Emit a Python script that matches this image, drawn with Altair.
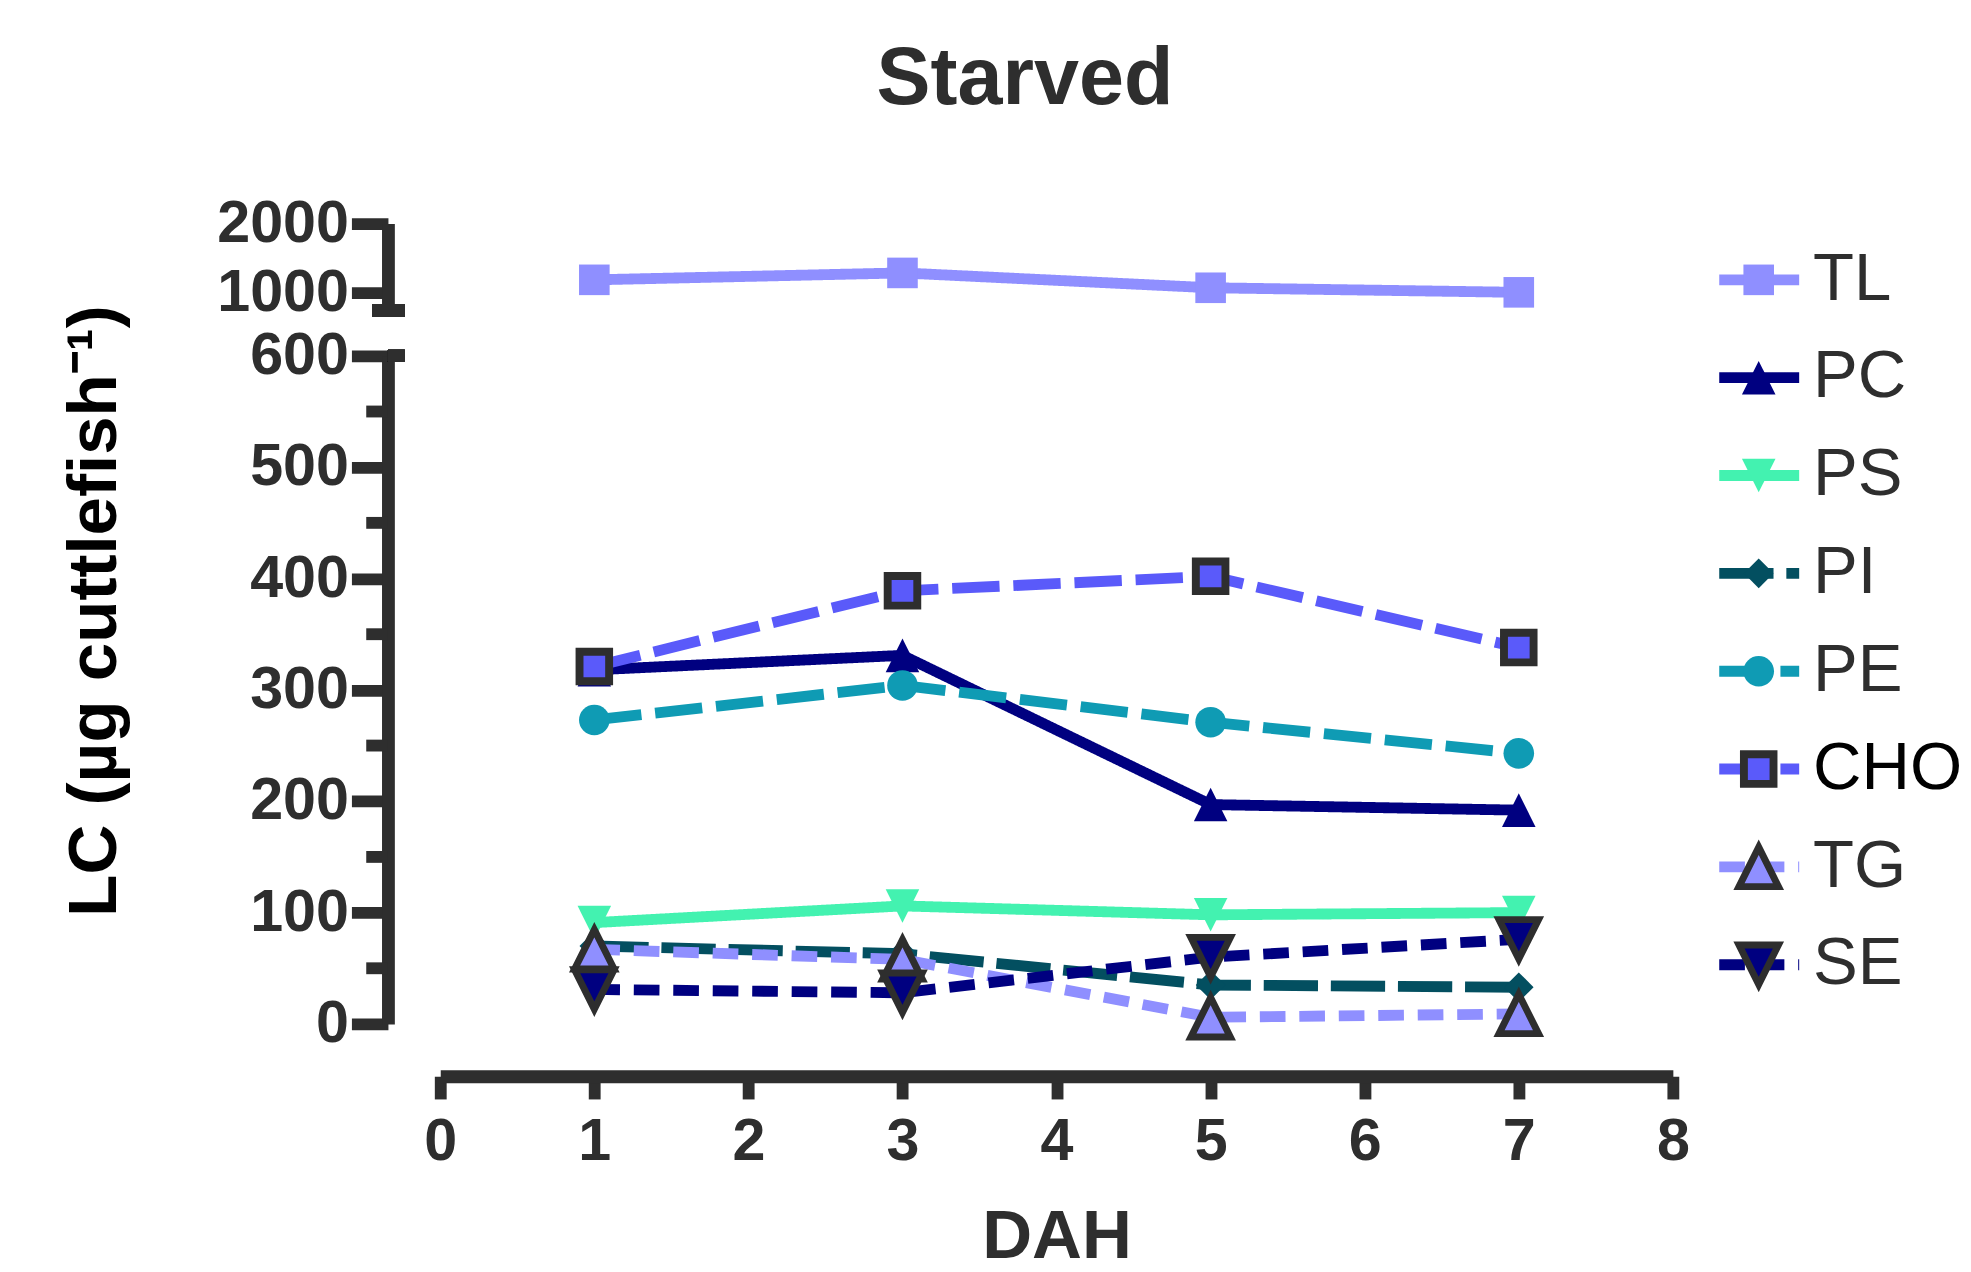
import altair as alt
import pandas as pd

# ---- data ----
DAH = [1, 3, 5, 7]
SERIES = ["TL", "PC", "PS", "PI", "PE", "CHO", "TG", "SE"]
TL = [1186, 1286, 1071, 1005]
PC = [318, 331, 197, 192]
PS = [91, 106, 98, 100]
PI = [70, 63, 35, 33]
PE = [273, 304, 271, 243]
CHO = [321, 389, 402, 338]
TG = [67, 58, 6, 9]
SE = [31, 28, 60, 76]
X_TICKS = [0, 1, 2, 3, 4, 5, 6, 7, 8]
Y_TOP_TICKS = [1000, 2000]
Y_LOW_MAJOR = [0, 100, 200, 300, 400, 500, 600]
Y_LOW_MINOR = [50, 150, 250, 350, 450, 550]

VALUES = {"TL": TL, "PC": PC, "PS": PS, "PI": PI, "PE": PE, "CHO": CHO, "TG": TG, "SE": SE}
rows = []
for s in SERIES:
    for d, v in zip(DAH, VALUES[s]):
        rows.append({"series": s, "DAH": d, "value": v})
df = pd.DataFrame(rows)
legend_df = pd.DataFrame({"series": SERIES})
minor_df = pd.DataFrame({"value": Y_LOW_MINOR})

# ---- styles ----
DARK = "#2e2e2e"
FONT = "Liberation Sans"
TRI_UP = "M0,-1L1,1L-1,1Z"
TRI_DOWN = "M0,1L1,-1L-1,-1Z"
STYLE = {
    "TL":  dict(color="#8F8FFF", dash=[1, 0],   shape="square",  size=961,  stroke=None, sw=0),
    "PC":  dict(color="#000080", dash=[1, 0],   shape=TRI_UP,    size=1156, stroke=None, sw=0),
    "PS":  dict(color="#43F2B0", dash=[1, 0],   shape=TRI_DOWN,  size=1156, stroke=None, sw=0),
    "PI":  dict(color="#034F60", dash=[55, 13], shape="diamond", size=900,  stroke=None, sw=0),
    "PE":  dict(color="#0F9BB4", dash=[48, 14], shape="circle",  size=961,  stroke=None, sw=0),
    "CHO": dict(color="#5A5AFA", dash=[48, 14], shape="square",  size=900,  stroke=DARK, sw=8),
    "TG":  dict(color="#8F8FFF", dash=[26, 14], shape=TRI_UP,    size=1600, stroke=DARK, sw=7),
    "SE":  dict(color="#000080", dash=[26, 14], shape=TRI_DOWN,  size=1600, stroke=DARK, sw=7),
}
LW = 11
W = 1249
H_TOP = 88
H_LOW = 677
AX_OFF = 53

x_scale = alt.Scale(domain=[0, 8], nice=False, zero=False)


def point_kw(st):
    kw = dict(shape=st["shape"], size=st["size"], fill=st["color"], filled=True, opacity=1)
    if st["stroke"]:
        kw.update(stroke=st["stroke"], strokeWidth=st["sw"])
    else:
        kw.update(strokeWidth=0)
    return kw


def series_layers(names, y_enc, x_enc):
    layers = []
    for s in names:
        st = STYLE[s]
        base = alt.Chart(df).transform_filter(alt.datum.series == s)
        line = base.mark_line(color=st["color"], strokeWidth=LW, strokeDash=st["dash"],
                              strokeCap="butt").encode(x=x_enc, y=y_enc)
        pts = base.mark_point(**point_kw(st)).encode(x=x_enc, y=y_enc)
        layers += [line, pts]
    return layers


axis_common = dict(domainColor=DARK, tickColor=DARK, domainWidth=13, tickWidth=12,
                   labelFont=FONT, labelFontSize=60, labelFontWeight="bold", labelColor=DARK,
                   grid=False, offset=AX_OFF)

# ---- top panel (broken axis upper part) ----
x_top = alt.X("DAH:Q", scale=x_scale, axis=None)
y_top = alt.Y("value:Q", scale=alt.Scale(domain=[743, 2000], nice=False, zero=False),
              axis=alt.Axis(values=Y_TOP_TICKS, format="d", tickSize=37, labelPadding=3,
                            title=None, **axis_common))
top_foot = alt.Chart(df).mark_rule(color=DARK, strokeWidth=13, strokeCap="butt").encode(
    x=alt.value(-AX_OFF - 16), x2=alt.value(-AX_OFF + 17), y=alt.value(H_TOP))
top = alt.layer(*series_layers(["TL"], y_top, x_top), top_foot).properties(width=W, height=H_TOP)

# ---- bottom panel ----
x_low = alt.X("DAH:Q", scale=x_scale,
              axis=alt.Axis(values=X_TICKS, tickSize=23, labelPadding=14, title="DAH",
                            titleFont=FONT, titleFontSize=70, titleFontWeight="bold",
                            titleColor=DARK, titlePadding=33, labelFlush=False,
                            **axis_common))
y_low_scale = alt.Scale(domain=[0, 600], nice=False, zero=False)
y_low = alt.Y("value:Q", scale=y_low_scale,
              axis=alt.Axis(values=Y_LOW_MAJOR, format="d", tickSize=37, labelPadding=3,
                            title="LC (µg cuttlefish⁻¹)", titleFont=FONT, titleFontSize=70,
                            titleFontWeight="bold", titleColor="#000000", titlePadding=121,
                            titleY=258,
                            **axis_common))
low_layers = series_layers(["PC", "PS", "PI", "PE", "CHO", "TG", "SE"], y_low, x_low)
minor_ticks = alt.Chart(minor_df).mark_rule(color=DARK, strokeWidth=12, strokeCap="butt").encode(
    x=alt.value(-AX_OFF), x2=alt.value(-AX_OFF - 22), y=y_low)
break_t = alt.Chart(df).mark_rule(color=DARK, strokeWidth=12, strokeCap="butt").encode(
    x=alt.value(-AX_OFF), x2=alt.value(-AX_OFF + 17), y=alt.value(0))
bottom = alt.layer(*low_layers, minor_ticks, break_t).properties(width=W, height=H_LOW)

left = alt.vconcat(top, bottom, spacing=-20)

# ---- legend ----
LEG_H = 808
ly = alt.Y("series:N", scale=alt.Scale(domain=SERIES, type="point", padding=0.575), axis=None)
leg_layers = []
for s in SERIES:
    st = STYLE[s]
    b = alt.Chart(legend_df).transform_filter(alt.datum.series == s)
    leg_layers.append(b.mark_rule(color=st["color"], strokeWidth=LW, strokeDash=st["dash"],
                                  strokeCap="butt").encode(
        x=alt.value(0), x2=alt.value(81), y=ly))
    leg_layers.append(b.mark_point(**point_kw(st)).encode(x=alt.value(40), y=ly))
leg_text = alt.Chart(legend_df).mark_text(align="left", baseline="middle", dx=14,
                                          font=FONT, fontSize=68).encode(
    x=alt.value(81), y=ly, text="series:N",
    color=alt.condition(alt.datum.series == "CHO", alt.value("#000000"), alt.value(DARK)))
legend = alt.layer(*leg_layers, leg_text).properties(width=81, height=LEG_H)

chart = alt.hconcat(left, legend, spacing=24).properties(
    title=alt.TitleParams("Starved", font=FONT, fontSize=82, fontWeight="bold",
                          color=DARK, anchor="middle", offset=74, dx=14),
    padding={"left": 52, "top": 23, "right": 0, "bottom": 0},
).configure_view(stroke=None)

chart.save("out.html", embed_options={"renderer": "svg", "actions": False})
